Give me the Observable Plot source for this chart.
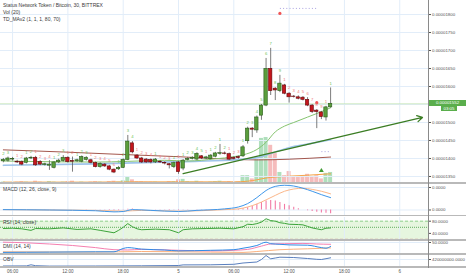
<!DOCTYPE html>
<html><head><meta charset="utf-8">
<script src="https://cdn.jsdelivr.net/npm/d3@7"></script>
<script src="https://cdn.jsdelivr.net/npm/@observablehq/plot@0.6"></script>
<style>
body{margin:0;background:#fff;}
#c{position:relative;width:466px;height:275px;overflow:hidden;background:#fff;font-family:"Liberation Sans",Arial,sans-serif;}
.pane{position:absolute;left:0;}
.lbl{position:absolute;font-size:5px;color:#3a3a3a;white-space:nowrap;line-height:1;}
.sep{position:absolute;left:0;width:466px;height:1.5px;background:#b9b9b9;}
.tag{position:absolute;color:#fff;font-size:4.4px;line-height:1;text-align:center;white-space:nowrap;}
</style></head><body><div id="c"></div>
<script>
// ---------------- data (prices in satoshi, 1e-8 BTC) ----------------
const firstBar = "2017-07-04T05:00:00Z"; // 30-minute bars
const opens  = [1392,1394,1397,1391,1390,1388,1400,1402,1390,1382,1380,1374,1389,1393,1402,1393,1392,1391,1396,1395,1387,1376,1383,1378,1369,1370,1374,1396,1442,1408,1400,1397,1396,1389,1391,1388,1384,1376,1389,1372,1396,1399,1397,1406,1400,1399,1405,1413,1414,1412,1402,1404,1406,1448,1483,1478,1519,1547,1649,1594,1587,1603,1580,1572,1570,1569,1563,1547,1533,1528,1514,1542];
const highs  = [1400,1404,1403,1395,1393,1403,1406,1406,1394,1387,1394,1391,1398,1408,1405,1404,1398,1407,1405,1398,1390,1388,1386,1381,1371,1378,1399,1464,1447,1411,1403,1400,1399,1400,1394,1391,1386,1390,1392,1397,1403,1405,1416,1408,1406,1411,1417,1439,1418,1415,1405,1407,1436,1487,1486,1518,1550,1678,1706,1597,1631,1606,1583,1575,1574,1572,1569,1550,1536,1531,1545,1596];
const lows   = [1388,1390,1393,1386,1380,1385,1397,1378,1380,1379,1367,1371,1386,1390,1387,1362,1389,1388,1393,1385,1374,1373,1375,1366,1358,1367,1372,1394,1413,1397,1386,1386,1385,1386,1386,1382,1371,1372,1356,1366,1393,1396,1394,1397,1397,1396,1402,1409,1410,1394,1396,1398,1403,1440,1458,1470,1506,1544,1575,1561,1583,1577,1554,1568,1563,1560,1544,1525,1483,1508,1504,1540];
const closes = [1396,1400,1399,1389,1383,1400,1402,1381,1383,1384,1383,1389,1394,1402,1390,1391,1395,1404,1402,1388,1376,1385,1378,1369,1361,1374,1396,1447,1417,1400,1389,1389,1389,1397,1389,1386,1381,1387,1362,1394,1399,1402,1413,1400,1403,1408,1414,1415,1413,1397,1399,1401,1431,1483,1480,1514,1547,1649,1587,1589,1608,1580,1570,1571,1566,1563,1547,1529,1529,1515,1542,1552];
const volumes = [3,2,2,3,4,3,2,5,3,2, 4,3,2,3,4,5,2,3,2,3, 4,3,2,4,5,3,6,13,8,4, 4,3,3,3,2,2,4,4,8,9, 4,3,5,3,2,3,4,5,3,4, 3,3,17,17,10,57,98,100,83,65, 24,17,26,13,13,17,20,15,17,10, 22,24];
// TD sequential counts: positive = green label, negative = red label, 0 = none
const tdCounts = [2,3,0,-1,-2,1,2,-1,-2,-3, -4,1,2,3,-1,-2,1,2,3,-1, -2,-3,-4,-5,-6,1,2,3,4,-1, -2,-3,-4,1,-1,-2,-3,1,-1,1, 2,3,4,5,-1,1,2,1,2,-1, -2,-3,1,2,3,4,5,6,7,8, 9,-1,-2,-3,-4,-5,-6,-7,-8,-9, -1,1];
const macdHist = [0.5,0.3,0.2,-0.2,-0.5,-0.3,0.2,0.4,-0.3,-0.5,-0.6,-0.4,-0.2,0.1,0.2,0,-0.1,0.3,0.4,0.1,-0.3,-0.6,-0.8,-1.2,
  -1.8,-2,-1,2,2.5,1.5,0.8,0.2,-0.3,-0.5,-0.8,-1,-1.2,-1,
  -1.8,-1,-0.4,0,0.5,0.6,0.8,1,1.2,1.5,1.6,1.4,1.5,2,
  3,6,10,15,20,24,25,24,20,15,11,7,3,0,-2,-4,-6,-8,-9,-10];

// indicator lines read at bar indices: [bar index, value]
const brownMA = [[0,1424],[13,1418],[26,1411],[38,1405],[49,1398],[55,1396],[62,1398],[71,1404]];
const blueMA  = [[0,1381],[20,1385],[38,1391],[49,1395],[53,1399],[56,1405],[59,1418],[62,1430],[66,1440],[71,1452]];
const greenMA = [[0,1393],[10,1391],[20,1390],[27,1392],[35,1395],[40,1393],[46,1399],[50,1405],[52,1410],[55,1425],[57,1445],[59,1474],[61,1490],[63,1500],[66,1515],[69,1530],[71,1541]];
const volMA   = [[0,3],[20,3],[27,3.5],[38,3.5],[50,3.5],[53,5],[55,8],[57,12],[59,14],[62,16],[66,18],[70,20.5],[71,21]];
const macdLine   = [[0,1],[10,0],[20,-2],[24,-5],[26,-4],[28,1],[32,-1],[38,-4],[42,-1],[48,3],[51,8],[53,17],[55,33],[57,52],[59,63],[61,66],[63,64],[65,58],[67,50],[69,41],[71,33]];
const signalLine = [[0,1],[10,0],[20,-1],[26,-3],[30,-1],[38,-3],[48,1],[51,3],[53,8],[55,16],[57,27],[59,39],[61,50],[63,56],[65,58],[67,55],[69,50],[71,43]];
const rsiLine = [[0,56],[2,57],[4,55],[6,50],[7,56],[10,55],[13,58],[16,53],[19,55],[21,50],[24,42],[25,50],[26,60],[27,72],[28,62],[29,55],[30,52],[33,54],[36,52],[38,42],[39,52],[41,55],[44,56],[47,57],[50,55],[52,62],[53,70],[54,69],[55,72],[56,77],[57,88],[58,82],[59,80],[60,75],[61,73],[62,70],[64,69],[65,68],[66,63],[67,58],[68,55],[69,52],[70,57],[71,58]];
const dmiMinus = [[0,51],[5,49],[10,45],[15,40],[20,33],[24,26],[27,25],[30,27],[38,24],[45,22],[50,24],[53,27],[56,38],[58,45],[61,46],[65,47],[68,45],[71,44]];
const dmiPlus  = [[0,17],[10,18],[20,19],[24,19],[26,30],[27,33],[30,28],[35,25],[38,22],[45,24],[50,26],[52,31],[55,40],[57,51],[58,46],[60,44],[62,42],[66,41],[69,33],[70,31],[71,37]];
const dmiADX   = [[0,19],[20,18],[30,20],[45,18],[52,17],[55,20],[60,26],[66,29],[71,32]];
const obvLine  = [[0,355],[5,356],[6,367],[7,358],[10,354],[20,355],[30,357],[38,360],[39,366],[45,367],[50,372],[52,385],[55,395],[56,420],[57,460],[58,427],[59,435],[60,443],[63,440],[66,430],[68,422],[69,420],[70,428],[71,437]]; // millions

const tickTimes  = ["2017-07-04T06:00:00Z","2017-07-04T12:00:00Z","2017-07-04T18:00:00Z","2017-07-05T00:00:00Z","2017-07-05T06:00:00Z","2017-07-05T12:00:00Z","2017-07-05T18:00:00Z","2017-07-06T00:00:00Z"];
const tickLabels = ["06:00","12:00","18:00","5","06:00","12:00","18:00","6"];
const priceGrid  = [1350,1400,1450,1500,1550,1600,1650,1700,1750,1800];
const priceTicks = [1350,1400,1450,1500,1600,1650,1700,1750,1800]; // 1550 hidden behind last-price tag
const macdTicks = [0, 60];
const rsiTicks = [80, 40];
const rsiGuides = {upper: 80, middle: 60, lower: 20};
const dmiTicks = [50];
const obvTicks = [420];

const trendTimes  = ["2017-07-05T00:30:00Z","2017-07-06T02:28:00Z"];
const trendPrices = [1358, 1514];
const tdLevels = [{i1: 60, i2: 68, p: 1817}, {i1: 69, i2: 71, p: 1419}];
const redMarks = [[60, 1803], [68, 1555]];
const greenMarks = [[69, 1366]];
const countdown = "03:05";

const titleLines = ["Status Network Token / Bitcoin, 30, BITTREX", "Vol (20)", "TD_MAv2 (1, 1, 1, 80, 70)"];
const paneTitles = ["MACD (12, 26, close, 9)", "RSI (14, close)", "DMI (14, 14)", "OBV"];

// ---------------- build ----------------
const MIN = 60e3, H = 3600e3;
const t0 = Date.parse(firstBar);
const barTime = i => new Date(t0 + i * 30 * MIN);
const bars = opens.map((o, i) => ({t: barTime(i), o, h: highs[i], l: lows[i], c: closes[i], v: volumes[i], td: tdCounts[i], hist: macdHist[i]}));
const pts = arr => arr.map(([i, v]) => ({t: barTime(i), v}));
const ticksT = tickTimes.map(d => new Date(d));
const day5 = Date.parse("2017-07-05T00:00:00Z");
const xDomain = [new Date(day5 - 19.31 * H), new Date(day5 + 27.12 * H)];
const W = 466, MR = 38;
const gridC = "#e2edf9";
const baseStyle = {background: "transparent", fontFamily: "Liberation Sans, Arial, sans-serif", fontSize: "4.4px", color: "#555", overflow: "visible"};
const X = {type: "utc", domain: xDomain, axis: null};
const up = "#5a9e3c", down = "#c4161c";
const fmtPrice = d => (d * 1e-8).toFixed(8);

const root = document.getElementById("c");
function place(el, top) { const d = document.createElement("div"); d.className = "pane"; d.style.top = top + "px"; d.appendChild(el); root.appendChild(d); return el; }
function pane(top, height, yopts, marks) {
  return place(Plot.plot({
    width: W, height, marginLeft: 0, marginRight: MR, marginTop: 0, marginBottom: 0,
    style: baseStyle, x: X, y: yopts, marks
  }), top);
}
const yAxis = (domain, ticks, fmt) => ({domain, axis: "right", ticks, tickFormat: fmt, tickSize: 2, tickPadding: 1.5, label: null});

// volume layer (under main)
place(Plot.plot({
  width: W, height: 183, marginLeft: 0, marginRight: MR, marginTop: 0, marginBottom: 0,
  style: baseStyle, x: X, y: {domain: [0, 397.8], axis: null},
  marks: [
    Plot.rect(bars, {x1: d => new Date(+d.t - 13 * MIN), x2: d => new Date(+d.t + 13 * MIN), y1: () => 0, y2: "v",
      fill: d => d.c >= d.o ? "#79c98f" : "#ee9090", fillOpacity: 0.6}),
    Plot.line(pts(volMA), {x: "t", y: "v", stroke: "#f5a447", strokeWidth: 1, curve: "monotone-x"})
  ]
}), 0);

// main price pane
const main = pane(0, 183, yAxis([1330.5, 1839], priceTicks, fmtPrice), [
  Plot.ruleY(priceGrid, {stroke: gridC}),
  Plot.ruleX(ticksT, {stroke: gridC}),
  Plot.ruleY([closes[closes.length - 1]], {stroke: "#c3e4b3", strokeWidth: 0.8}),
  Plot.line(pts(brownMA), {x: "t", y: "v", stroke: "#a4574d", strokeWidth: 1, curve: "monotone-x"}),
  Plot.line(pts(blueMA), {x: "t", y: "v", stroke: "#9ec4ea", strokeWidth: 1.6, curve: "monotone-x"}),
  Plot.line(pts(greenMA), {x: "t", y: "v", stroke: "#86c46f", strokeWidth: 1, curve: "monotone-x"}),
  Plot.arrow([{t1: new Date(trendTimes[0]), p1: trendPrices[0], t2: new Date(trendTimes[1]), p2: trendPrices[1]}],
    {x1: "t1", y1: "p1", x2: "t2", y2: "p2", stroke: "#3b7d24", strokeWidth: 1.3, headLength: 7, bend: 0}),
  Plot.link(tdLevels, {x1: d => barTime(d.i1), x2: d => barTime(d.i2), y1: "p", y2: "p", stroke: "#a9a2e0", strokeWidth: 1, strokeDasharray: "1,2.2"}),
  Plot.ruleX(bars, {x: "t", y1: "l", y2: "h", stroke: "#5a5a5a", strokeWidth: 0.8}),
  Plot.rect(bars, {x1: d => new Date(+d.t - 11 * MIN), x2: d => new Date(+d.t + 11 * MIN), y1: "o", y2: "c",
    fill: d => d.c >= d.o ? up : down, stroke: d => d.c >= d.o ? "#2c5c1c" : "#650b0e", strokeWidth: 0.6}),
  Plot.dot(redMarks, {x: d => barTime(d[0]), y: d => d[1], r: 1.6, fill: "#f05555", stroke: "none"}),
  Plot.dot(greenMarks, {x: d => barTime(d[0]), y: d => d[1], r: 1.8, symbol: "triangle", fill: "#3f9a32", stroke: "none"}),
  Plot.text(bars.filter(d => d.td !== 0), {x: "t", y: "h", text: d => String(Math.abs(d.td)), dy: -4.5,
    fill: d => d.td > 0 ? "#6cbf58" : "#f07878", fontSize: 4.2})
]);

// MACD
pane(184, 31, yAxis([-14.67, 68], macdTicks, d => (d * 1e-8).toFixed(4)), [
  Plot.ruleY(macdTicks, {stroke: gridC}),
  Plot.ruleX(ticksT, {stroke: gridC}),
  Plot.ruleX(bars, {x: "t", y1: () => 0, y2: "hist", stroke: "#f27aa5", strokeWidth: 1.1}),
  Plot.line(pts(signalLine), {x: "t", y: "v", stroke: "#fbb78a", strokeWidth: 1, curve: "monotone-x"}),
  Plot.line(pts(macdLine), {x: "t", y: "v", stroke: "#3f97ea", strokeWidth: 1, curve: "monotone-x"})
]);

// RSI
pane(217, 23, yAxis([16.72, 92.13], rsiTicks, d => d.toFixed(4)), [
  Plot.rect([rsiGuides], {x1: () => xDomain[0], x2: () => xDomain[1], y1: "lower", y2: "upper", fill: "#e6f6df"}),
  Plot.ruleX(ticksT, {stroke: gridC}),
  Plot.ruleY([rsiGuides.upper], {stroke: "#92d18e", strokeWidth: 1, strokeDasharray: "3,2"}),
  Plot.ruleY([rsiGuides.lower], {stroke: "#d9a69c", strokeWidth: 1.6, strokeDasharray: "3,2"}),
  Plot.ruleY([rsiGuides.middle], {stroke: "#3f9a3f", strokeWidth: 0.8, strokeDasharray: "1,1"}),
  Plot.line(pts(rsiLine), {x: "t", y: "v", stroke: "#3ca43a", strokeWidth: 1})
]);

// DMI
pane(241, 13, yAxis([10, 53.33], dmiTicks, d => d.toFixed(4)), [
  Plot.ruleY(dmiTicks, {stroke: gridC}),
  Plot.ruleX(ticksT, {stroke: gridC}),
  Plot.line(pts(dmiADX), {x: "t", y: "v", stroke: "#fbb07c", strokeWidth: 1, curve: "monotone-x"}),
  Plot.line(pts(dmiMinus), {x: "t", y: "v", stroke: "#f47fb0", strokeWidth: 1, curve: "monotone-x"}),
  Plot.line(pts(dmiPlus), {x: "t", y: "v", stroke: "#2f8be6", strokeWidth: 1, curve: "monotone-x"})
]);

// OBV
pane(255, 12, yAxis([340, 460], obvTicks, d => (d * 1e6).toFixed(4)), [
  Plot.ruleY(obvTicks, {stroke: gridC}),
  Plot.ruleX(ticksT, {stroke: gridC}),
  Plot.line(pts(obvLine), {x: "t", y: "v", stroke: "#5a7fbe", strokeWidth: 1})
]);

// time axis
pane(267, 8, {axis: null}, [
  Plot.text(ticksT, {x: d => d, text: (d, i) => tickLabels[i], fill: "#555", fontSize: 4.5})
]);

// separators and border
[183, 215.5, 240, 254, 267].forEach(y => { const s = document.createElement("div"); s.className = "sep"; s.style.top = (y - 0.75) + "px"; root.appendChild(s); });
const vb = document.createElement("div");
vb.style.cssText = "position:absolute;left:427.5px;top:0;width:1px;height:268px;background:#8a8a8a;";
root.appendChild(vb);

// header and pane titles
const lbl = (text, x, yc) => { const d = document.createElement("div"); d.className = "lbl"; d.textContent = text; d.style.left = x + "px"; d.style.top = (yc - 2.6) + "px"; root.appendChild(d); };
titleLines.forEach((t, i) => lbl(t, 3, [6, 13, 19.3][i]));
paneTitles.forEach((t, i) => lbl(t, 3, [190, 222.5, 246.5, 260][i]));

// last-price tag
const yLast = main.scale("y").apply(closes[closes.length - 1]);
const tag = document.createElement("div"); tag.className = "tag";
tag.textContent = fmtPrice(closes[closes.length - 1]);
tag.style.cssText += `left:429px;top:${yLast - 2.8}px;width:37px;height:5.6px;line-height:5.6px;background:#5aae4c;`;
root.appendChild(tag);
const cd = document.createElement("div"); cd.className = "tag";
cd.textContent = countdown;
cd.style.cssText += `left:441px;top:${yLast + 3.2}px;width:16px;height:5px;line-height:5px;background:#5aae4c;`;
root.appendChild(cd);
</script></body></html>
